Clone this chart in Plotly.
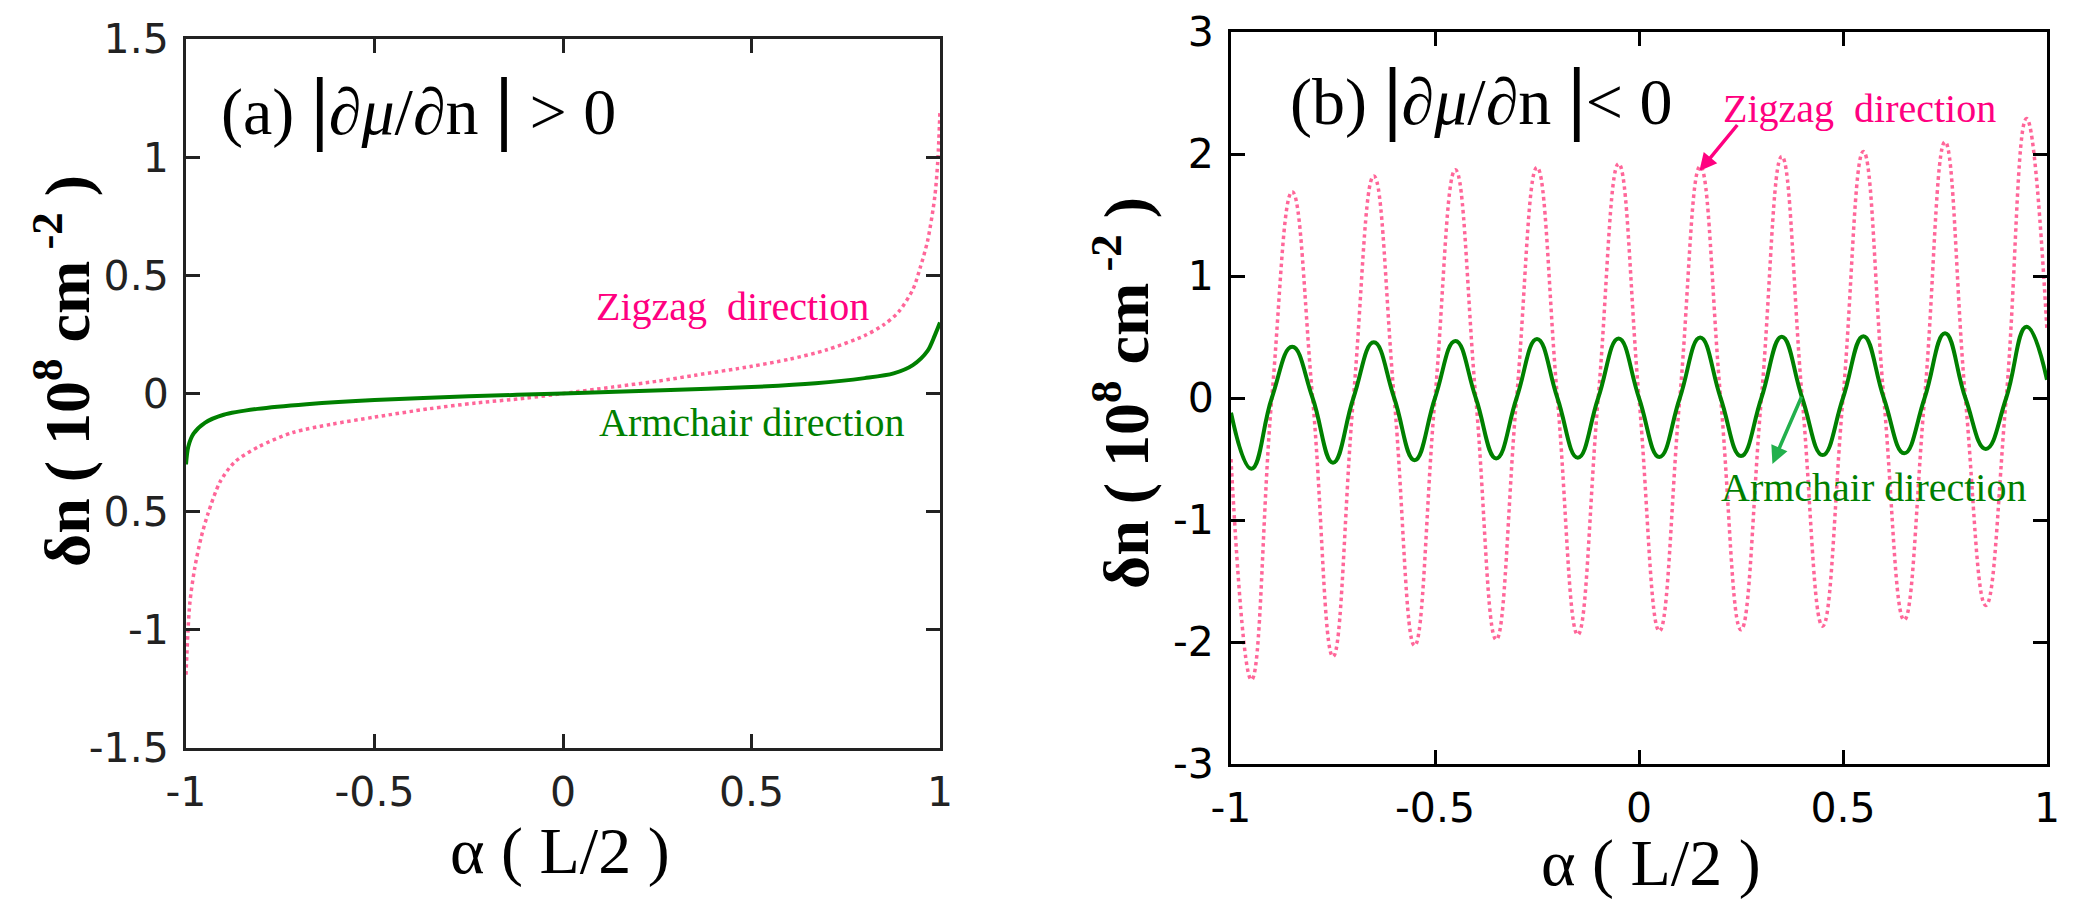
import plotly.graph_objects as go

# ---- data ----
# panel (a): |dmu/dn| > 0
a_zig_x = [-1.0, -0.99, -0.977, -0.96, -0.942, -0.91, -0.871, -0.807, -0.717, -0.614,
           -0.5, -0.357, -0.23, -0.1, 0.0, 0.13, 0.25, 0.35, 0.5, 0.6, 0.7, 0.8, 0.85,
           0.89, 0.928, 0.947, 0.967, 0.986, 0.994, 1.0]
a_zig_y = [-1.19, -0.89, -0.74, -0.61, -0.51, -0.375, -0.29, -0.225, -0.165, -0.13,
           -0.10, -0.065, -0.04, -0.02, 0.0, 0.027, 0.052, 0.077, 0.115, 0.145, 0.185,
           0.245, 0.29, 0.345, 0.44, 0.53, 0.645, 0.83, 0.98, 1.2]
a_arm_x = [-1.0, -0.994, -0.98, -0.95, -0.9, -0.81, -0.68, -0.5, -0.25, 0.0, 0.285,
           0.5, 0.67, 0.8, 0.877, 0.928, 0.967, 0.986, 1.0]
a_arm_y = [-0.30, -0.225, -0.17, -0.124, -0.09, -0.065, -0.045, -0.027, -0.012, 0.0,
           0.015, 0.027, 0.043, 0.065, 0.085, 0.12, 0.18, 0.245, 0.30]

# panel (b): |dmu/dn| < 0
b_x = [-1.0, -0.95, -0.9, -0.85, -0.8, -0.75, -0.7, -0.65, -0.6, -0.55, -0.5,
       -0.45, -0.4, -0.35, -0.3, -0.25, -0.2, -0.15, -0.1, -0.05, 0.0,
       0.05, 0.1, 0.15, 0.2, 0.25, 0.3, 0.35, 0.4, 0.45, 0.5,
       0.55, 0.6, 0.65, 0.7, 0.75, 0.8, 0.85, 0.9, 0.95, 1.0]
b_zig_y = [-0.5, -2.31, 0.0, 1.69, 0.0, -2.12, 0.0, 1.82, 0.0, -2.03, 0.0,
           1.87, 0.0, -1.98, 0.0, 1.89, 0.0, -1.94, 0.0, 1.92, 0.0,
           -1.91, 0.0, 1.90, 0.0, -1.90, 0.0, 1.98, 0.0, -1.87, 0.0,
           2.02, 0.0, -1.82, 0.0, 2.10, 0.0, -1.70, 0.0, 2.29, 0.55]
b_arm_y = [-0.12, -0.58, 0.0, 0.42, 0.0, -0.53, 0.0, 0.457, 0.0, -0.51, 0.0,
           0.468, 0.0, -0.495, 0.0, 0.484, 0.0, -0.49, 0.0, 0.488, 0.0,
           -0.484, 0.0, 0.495, 0.0, -0.476, 0.0, 0.503, 0.0, -0.468, 0.0,
           0.507, 0.0, -0.453, 0.0, 0.53, 0.0, -0.418, 0.0, 0.583, 0.15]

x_ticks = [-1, -0.5, 0, 0.5, 1]
x_ticktext = ['-1', '-0.5', '0', '0.5', '1']
a_y_ticks = [-1.5, -1, -0.5, 0, 0.5, 1, 1.5]
a_y_ticktext = ['-1.5', '-1', '0.5', '0', '0.5', '1', '1.5']
b_y_ticks = [-3, -2, -1, 0, 1, 2, 3]
b_y_ticktext = ['-3', '-2', '-1', '0', '1', '2', '3']

PINK_LINE = '#ff6699'
PINK_TEXT = '#ff0080'
GREEN = '#008000'
SERIF = 'Liberation Serif'
SANS = 'DejaVu Sans'

W, H = 2100, 906
SHIFT = 8  # page body margin pushes the figure right/down by this much


def px(x):
    return (x - SHIFT) / W


def py(y):
    return 1 - (y - SHIFT) / H


fig = go.Figure()

fig.add_trace(go.Scatter(x=a_zig_x, y=a_zig_y, mode='lines', xaxis='x', yaxis='y',
                         line=dict(color=PINK_LINE, width=3.5, dash='dot',
                                   shape='spline', smoothing=0.8)))
fig.add_trace(go.Scatter(x=a_arm_x, y=a_arm_y, mode='lines', xaxis='x', yaxis='y',
                         line=dict(color=GREEN, width=4, shape='spline', smoothing=0.8)))
fig.add_trace(go.Scatter(x=b_x, y=b_zig_y, mode='lines', xaxis='x2', yaxis='y2',
                         line=dict(color=PINK_LINE, width=3.5, dash='dot',
                                   shape='spline', smoothing=1.3)))
fig.add_trace(go.Scatter(x=b_x, y=b_arm_y, mode='lines', xaxis='x2', yaxis='y2',
                         line=dict(color=GREEN, width=4, shape='spline', smoothing=1.3)))


def axis_style(color, domain, rng, vals, text, anchor):
    return dict(
        domain=domain, range=rng, anchor=anchor, automargin=False,
        tickmode='array', tickvals=vals, ticktext=text,
        ticks='inside', ticklen=14, tickwidth=2.5, tickcolor=color,
        showline=True, linecolor=color, linewidth=3, mirror='ticks',
        showgrid=False, zeroline=False,
        tickfont=dict(family=SANS, size=41, color=color),
        ticklabelstandoff=6,
    )


fig.update_layout(
    width=W, height=H,
    margin=dict(l=0, r=0, t=0, b=0, autoexpand=False),
    paper_bgcolor='white', plot_bgcolor='white',
    showlegend=False,
    xaxis=axis_style('#222222', [px(186), px(940)], [-1, 1], x_ticks, x_ticktext, 'y'),
    yaxis=axis_style('#222222', [py(748), py(39)], [-1.5, 1.5], a_y_ticks, a_y_ticktext, 'x'),
    xaxis2=axis_style('#000000', [px(1231), px(2047)], [-1, 1], x_ticks, x_ticktext, 'y2'),
    yaxis2=axis_style('#000000', [py(764), py(32)], [-3, 3], b_y_ticks, b_y_ticktext, 'x2'),
)

bar = "<span style='font-size:82px'><b>|</b></span>"
ann = [
    # panel labels
    dict(x=-0.383, y=1.216, xref='x', yref='y',
         text="(a) " + bar + "<i>∂μ</i>/<i>∂</i>n " + bar + " > 0",
         font=dict(family=SERIF, size=66, color='black')),
    dict(x=-0.385, y=2.47, xref='x2', yref='y2',
         text="(b) " + bar + "<i>∂μ</i>/<i>∂</i>n " + bar + "< 0",
         font=dict(family=SERIF, size=66, color='black')),
    # curve labels
    dict(x=0.45, y=0.37, xref='x', yref='y', text='Zigzag  direction',
         font=dict(family=SERIF, size=40, color=PINK_TEXT)),
    dict(x=0.50, y=-0.124, xref='x', yref='y', text='Armchair direction',
         font=dict(family=SERIF, size=40, color=GREEN)),
    dict(x=0.54, y=2.376, xref='x2', yref='y2', text='Zigzag  direction',
         font=dict(family=SERIF, size=40, color=PINK_TEXT)),
    dict(x=0.575, y=-0.733, xref='x2', yref='y2', text='Armchair direction',
         font=dict(family=SERIF, size=40, color=GREEN)),
    # arrows
    dict(x=0.148, y=1.86, ax=0.244, ay=2.25, xref='x2', yref='y2',
         axref='x2', ayref='y2', text='', showarrow=True,
         arrowhead=2, arrowsize=1, arrowwidth=3.5, arrowcolor=PINK_TEXT),
    dict(x=0.327, y=-0.54, ax=0.40, ay=0.023, xref='x2', yref='y2',
         axref='x2', ayref='y2', text='', showarrow=True,
         arrowhead=2, arrowsize=1, arrowwidth=3.5, arrowcolor='#22b04c'),
    # axis titles
    dict(x=px(63), y=py(371), xref='paper', yref='paper', textangle=-90,
         text="<b>δn ( 10<sup>8</sup> cm<sup> -2</sup> )</b>",
         font=dict(family=SERIF, size=64, color='black')),
    dict(x=px(1121), y=py(393), xref='paper', yref='paper', textangle=-90,
         text="<b>δn ( 10<sup>8</sup> cm<sup> -2</sup> )</b>",
         font=dict(family=SERIF, size=64, color='black')),
    dict(x=px(560), y=py(851), xref='paper', yref='paper',
         text="α ( L/2 )", font=dict(family=SERIF, size=66, color='black')),
    dict(x=px(1651), y=py(863), xref='paper', yref='paper',
         text="α ( L/2 )", font=dict(family=SERIF, size=66, color='black')),
]
for a in ann:
    a.setdefault('showarrow', False)
    a.setdefault('xanchor', 'center')
    a.setdefault('yanchor', 'middle')
    fig.add_annotation(**a)

fig.write_html("out.html")
